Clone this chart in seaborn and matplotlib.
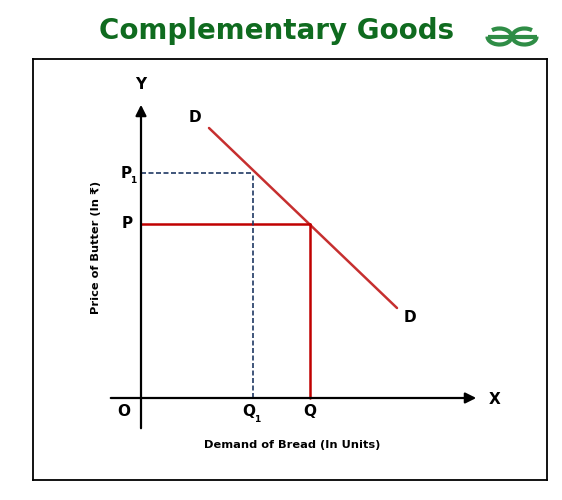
import pandas as pd
import seaborn as sns
import matplotlib.pyplot as plt
from matplotlib.patches import Arc

# demand curve D-D (x = quantity, y = price), values in chart units
demand_x = [6.8, 25.6]
demand_y = [27.0, 9.0]

# equilibrium point and the one at the higher price
price_p = 17.4
qty_q = 16.9
price_p1 = 22.5
qty_q1 = 11.2

x_axis_end = 33.8
y_axis_end = 29.6
axis_under = -3.3

title = "Complementary Goods"
x_label = "Demand of Bread (In Units)"
y_label = "Price of Butter (In ₹)"

RED = "#c00000"
DRED = "#c62f2f"
NAVY = "#1f3864"
GREEN = "#0f6b1f"
LOGO = "#2f8d46"

sns.set_theme(style="white")
plt.rcParams["font.family"] = ["DejaVu Sans"]

fig = plt.figure(figsize=(5.62, 5.00), dpi=100)
ax = fig.add_axes([33 / 562, 20 / 500, 514 / 562, 421 / 500])
ax.set_xlim(-10.8, 40.6)
ax.set_ylim(-8.2, 33.9)
ax.set_xticks([])
ax.set_yticks([])
for s in ax.spines.values():
    s.set_visible(True)
    s.set_color("black")
    s.set_linewidth(1.3)

# axes with arrows
ax.annotate("", xy=(x_axis_end, 0), xytext=(axis_under, 0),
            arrowprops=dict(arrowstyle="-|>", color="black", lw=1.6, mutation_scale=16))
ax.annotate("", xy=(0, y_axis_end), xytext=(0, axis_under),
            arrowprops=dict(arrowstyle="-|>", color="black", lw=1.6, mutation_scale=16))

# demand curve
demand = pd.DataFrame({"x": demand_x, "y": demand_y})
sns.lineplot(data=demand, x="x", y="y", ax=ax, color=DRED, lw=1.8, estimator=None, sort=False)

# P / Q guides (solid red)
sns.lineplot(x=[0, qty_q], y=[price_p, price_p], ax=ax, color=RED, lw=1.8,
             estimator=None, sort=False)
sns.lineplot(x=[qty_q, qty_q], y=[0, price_p], ax=ax, color=RED, lw=1.8,
             estimator=None, sort=False)

# P1 / Q1 guides (dashed navy)
sns.lineplot(x=[0, qty_q1], y=[price_p1, price_p1], ax=ax, color=NAVY, lw=1.2,
             estimator=None, sort=False, linestyle=(0, (3, 1.5)))
sns.lineplot(x=[qty_q1, qty_q1], y=[0, price_p1], ax=ax, color=NAVY, lw=1.2,
             estimator=None, sort=False, linestyle=(0, (3, 1.5)))
ax.set_xlabel("")
ax.set_ylabel("")

lab = dict(fontsize=11, fontweight="bold", color="black", ha="center", va="center")
sub = dict(fontsize=6.5, fontweight="bold", color="black", ha="center", va="center")
ax.text(0, 31.3, "Y", **lab)
ax.text(35.4, -0.1, "X", **lab)
ax.text(-1.7, -1.4, "O", **lab)
ax.text(-1.4, price_p, "P", **lab)
ax.text(-1.5, price_p1, "P", **lab)
ax.text(-0.75, price_p1 - 0.75, "1", **sub)
ax.text(qty_q1 - 0.4, -1.4, "Q", **lab)
ax.text(qty_q1 + 0.45, -2.1, "1", **sub)
ax.text(qty_q, -1.4, "Q", **lab)
ax.text(5.4, 28.0, "D", **lab)
ax.text(26.9, 8.1, "D", **lab)

ax.text(15.1, -4.7, x_label, fontsize=8.2, fontweight="bold", color="black",
        ha="center", va="center")
ax.text(-4.5, 15.1, y_label, fontsize=8.2, fontweight="bold", color="black",
        ha="center", va="center", rotation=90)

fig.text(277 / 562, 1 - 31 / 500, title, fontsize=20, fontweight="bold", color=GREEN,
         ha="center", va="center")

# GfG logo drawn in pixel space (y measured from the bottom)
logo = fig.add_axes([0, 0, 1, 1], facecolor="none")
logo.set_xlim(0, 562)
logo.set_ylim(0, 500)
logo.axis("off")
logo.add_patch(Arc((499.5, 463.5), 24, 16, theta1=-180, theta2=140, color=LOGO, lw=3))
logo.add_patch(Arc((524.5, 463.5), 24, 16, theta1=40, theta2=360, color=LOGO, lw=3))
logo.plot([487.5, 536.5], [463.5, 463.5], color=LOGO, lw=3, solid_capstyle="butt")

plt.savefig("out.png", dpi=100)
